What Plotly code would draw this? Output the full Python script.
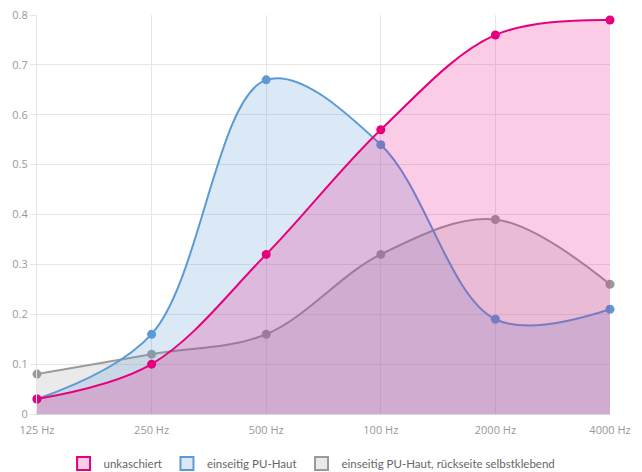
import plotly.graph_objects as go

categories = ["125 Hz", "250 Hz", "500 Hz", "100 Hz", "2000 Hz", "4000 Hz"]
unkaschiert = [0.03, 0.10, 0.32, 0.57, 0.76, 0.79]
pu_haut = [0.03, 0.16, 0.67, 0.54, 0.19, 0.21]
selbstklebend = [0.08, 0.12, 0.16, 0.32, 0.39, 0.26]
y_ticks = [0, 0.1, 0.2, 0.3, 0.4, 0.5, 0.6, 0.7, 0.8]
y_tick_labels = ["0", "0.1", "0.2", "0.3", "0.4", "0.5", "0.6", "0.7", "0.8"]

series = [
    ("einseitig PU-Haut, rückseite selbstklebend", selbstklebend, "#9a9a9a", "rgba(150,150,150,0.2)"),
    ("einseitig PU-Haut", pu_haut, "#5b9bd5", "rgba(91,155,213,0.22)"),
    ("unkaschiert", unkaschiert, "#e6007e", "rgba(230,0,126,0.2)"),
]

fig = go.Figure()
for name, vals, lc, fc in series:
    fig.add_trace(go.Scatter(
        x=categories, y=vals, mode="lines+markers", name=name,
        line=dict(color=lc, width=2, shape="spline", smoothing=1.0),
        marker=dict(color=lc, size=9),
        fill="tozeroy", fillcolor=fc, showlegend=False, cliponaxis=False,
        hoverinfo="skip",
    ))

for name, vals, lc, fc in reversed(series):
    fig.add_trace(go.Scatter(
        x=[None], y=[None], mode="markers", name=name,
        marker=dict(symbol="square", size=13, color=fc, line=dict(color=lc, width=2)),
        showlegend=True,
    ))

# page body has an 8px margin, so the figure is 8px smaller than the window
fig.update_layout(
    width=634, height=464,
    margin=dict(l=29, r=32, t=7, b=58, autoexpand=False),
    plot_bgcolor="white", paper_bgcolor="white",
    font=dict(family="Open Sans, sans-serif", size=11, color="#999999"),
    legend=dict(orientation="h", x=0.48, xanchor="center", y=-0.088, yanchor="top",
                font=dict(family="Lato, sans-serif", size=11.5, color="#666666"),
                itemwidth=30, traceorder="normal"),
)
fig.update_xaxes(
    type="category", range=[0, 5], showgrid=True, gridcolor="#e6e6e6",
    showline=True, linecolor="#d8d8d8", zeroline=False, automargin=False,
    ticks="", ticklabelstandoff=6, ticklabeloverflow="allow",
    tickfont=dict(size=11, color="#999999"),
)
fig.update_yaxes(
    range=[0, 0.8], tickvals=y_ticks, ticktext=y_tick_labels,
    showgrid=True, gridcolor="#e6e6e6", zeroline=False, automargin=False,
    showline=True, linecolor="#e6e6e6", ticklabeloverflow="allow",
    ticks="outside", ticklen=6, tickcolor="#e6e6e6",
    tickfont=dict(size=11, color="#999999"),
)

fig.write_html("out.html")
